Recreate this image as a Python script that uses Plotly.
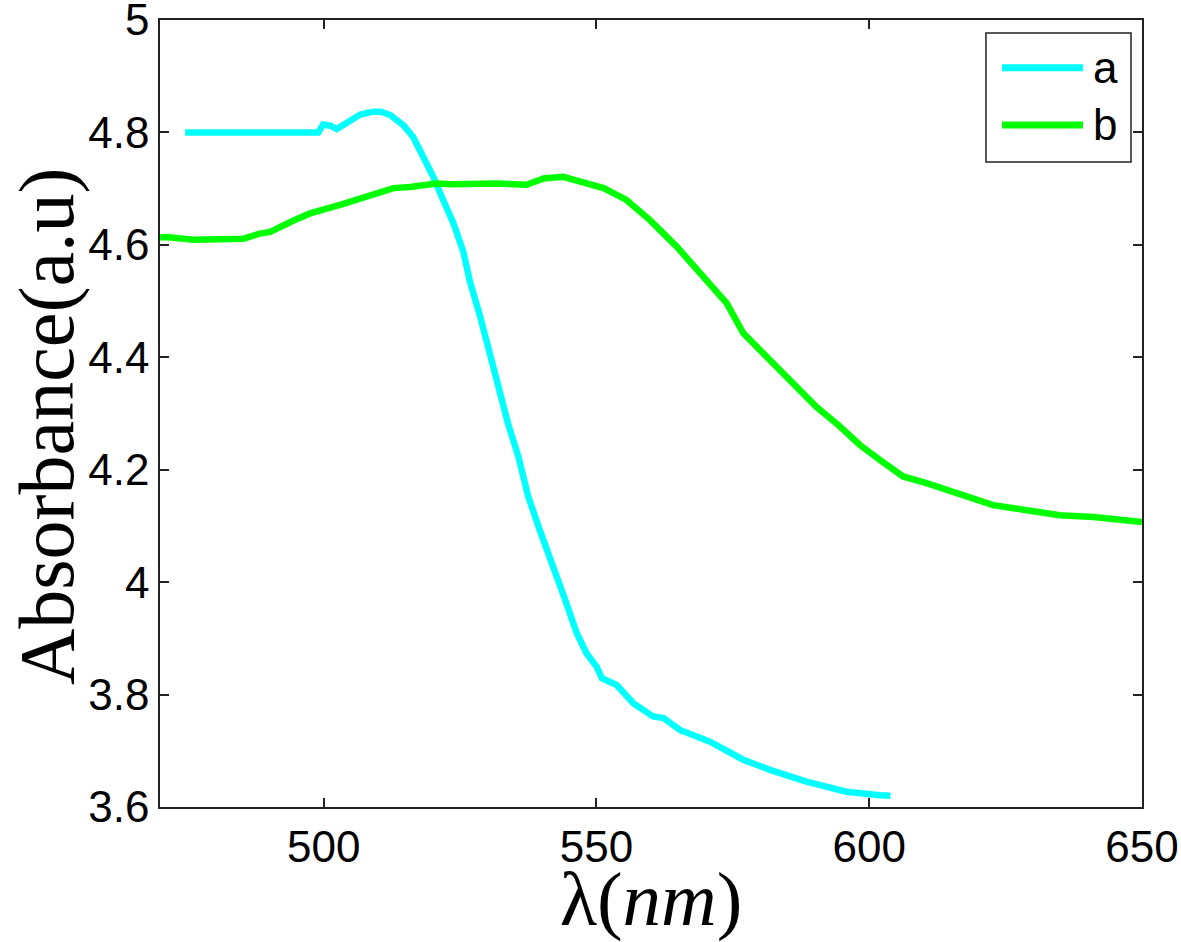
import plotly.graph_objects as go

# Curve a (cyan)
a_x = [474.6, 480, 490, 499.0, 499.9, 501.2, 502.4, 504.2, 506.7, 509.1, 510.5, 512.2, 514.6,
       516.4, 518.3, 520.1, 521.9, 523.8, 525.6, 526.8, 528.7, 530.5, 532.3, 533.8, 535.7,
       537.5, 539.6, 542.1, 544.5, 546.4, 548.2, 550.0, 551.0, 553.7, 556.8, 560.4, 562.3,
       565.3, 570.8, 576.9, 581.8, 588.5, 595.8, 602.0, 603.9]
a_y = [4.800, 4.800, 4.800, 4.800, 4.814, 4.812, 4.806, 4.817, 4.832, 4.837, 4.837, 4.831, 4.813,
       4.792, 4.757, 4.721, 4.680, 4.638, 4.588, 4.535, 4.472, 4.401, 4.342, 4.282, 4.223,
       4.152, 4.093, 4.022, 3.962, 3.909, 3.873, 3.850, 3.829, 3.817, 3.784, 3.761, 3.758,
       3.737, 3.716, 3.684, 3.666, 3.645, 3.627, 3.621, 3.620]

# Curve b (green)
b_x = [470.0, 471.2, 476.1, 480.0, 485.3, 488.3, 490.2, 494.4, 497.5, 503.3, 508.8, 512.8,
       515.8, 520.7, 523.5, 526.2, 531.7, 537.2, 540.3, 543.9, 547.0, 551.3, 555.5, 559.8,
       564.7, 569.6, 573.9, 576.9, 581.2, 586.1, 590.3, 594.5, 598.3, 602.0, 606.2, 610.5,
       616.6, 622.7, 628.9, 634.9, 641.1, 645.0, 649.6, 650.0]
b_y = [4.613, 4.614, 4.609, 4.611, 4.611, 4.620, 4.623, 4.643, 4.656, 4.672, 4.689, 4.701,
       4.703, 4.709, 4.708, 4.709, 4.709, 4.707, 4.718, 4.721, 4.712, 4.701, 4.680, 4.644,
       4.597, 4.543, 4.496, 4.443, 4.401, 4.354, 4.312, 4.278, 4.244, 4.217, 4.188, 4.176,
       4.155, 4.137, 4.128, 4.119, 4.116, 4.112, 4.107, 4.107]

series_names = ["a", "b"]
series_colors = ["#00FFFF", "#00FF00"]

x_ticks = [500, 550, 600, 650]
y_ticks = [3.6, 3.8, 4.0, 4.2, 4.4, 4.6, 4.8, 5.0]
y_ticklabels = ["3.6", "3.8", "4", "4.2", "4.4", "4.6", "4.8", "5"]

x_title = "λ(<i>nm</i>)"
y_title = "Absorbance(a.u)"

fig = go.Figure()
for xs, ys, nm, col in [(a_x, a_y, series_names[0], series_colors[0]),
                        (b_x, b_y, series_names[1], series_colors[1])]:
    fig.add_trace(go.Scatter(x=xs, y=ys, mode="lines", name=nm,
                             line=dict(color=col, width=6.5), showlegend=False))

tick_font = dict(family="Liberation Sans, Arial, sans-serif", size=44, color="black")
title_font = dict(family="Liberation Serif, Times New Roman, serif", size=77, color="black")

# Legend drawn MATLAB-style (long line samples) in paper coordinates
shapes = [dict(type="rect", xref="paper", yref="paper", x0=0.8411, x1=0.9888,
               y0=0.8196, y1=0.9835, line=dict(color="#222222", width=1.5),
               fillcolor="white", layer="above")]
annotations = []
for i, (nm, col) in enumerate(zip(series_names, series_colors)):
    yy = [0.9394, 0.8666][i]
    shapes.append(dict(type="line", xref="paper", yref="paper", x0=0.8574, x1=0.9399,
                       y0=yy, y1=yy, line=dict(color=col, width=7), layer="above"))
    annotations.append(dict(xref="paper", yref="paper", x=0.9480, y=yy, text=nm,
                            showarrow=False, xanchor="left", yanchor="middle",
                            font=dict(family="Liberation Sans, Arial, sans-serif",
                                      size=44, color="black")))

# y-axis title as a rotated annotation for exact placement
annotations.append(dict(xref="paper", yref="paper", x=-0.1161, y=0.484, text=y_title,
                        textangle=-90, showarrow=False, xanchor="center", yanchor="middle",
                        font=dict(family="Liberation Serif, Times New Roman, serif",
                                  size=78, color="black")))

fig.update_layout(
    width=1181, height=942,
    margin=dict(l=160, r=39, t=20, b=135),
    paper_bgcolor="white", plot_bgcolor="white",
    showlegend=False,
    shapes=shapes, annotations=annotations,
    xaxis=dict(range=[470, 650], tickvals=x_ticks, ticktext=[str(v) for v in x_ticks],
               showgrid=False, zeroline=False, showline=True, linecolor="#222222",
               linewidth=1.5, mirror="ticks", ticks="inside", ticklen=9,
               tickcolor="#222222", tickwidth=1.5, tickfont=tick_font, automargin=False,
               ticklabeloverflow="allow",
               title=dict(text=x_title, font=title_font, standoff=0)),
    yaxis=dict(range=[3.5999, 5.0001], tickvals=y_ticks, ticktext=y_ticklabels,
               showgrid=False, zeroline=False, showline=True, linecolor="#222222",
               linewidth=1.5, mirror="ticks", ticks="inside", ticklen=9,
               tickcolor="#222222", tickwidth=1.5, tickfont=tick_font, automargin=False,
               ticklabeloverflow="allow"),
)

fig.write_html("out.html", config={"displayModeBar": False},
               post_script="document.body.style.margin='0';document.body.style.overflow='hidden';")
